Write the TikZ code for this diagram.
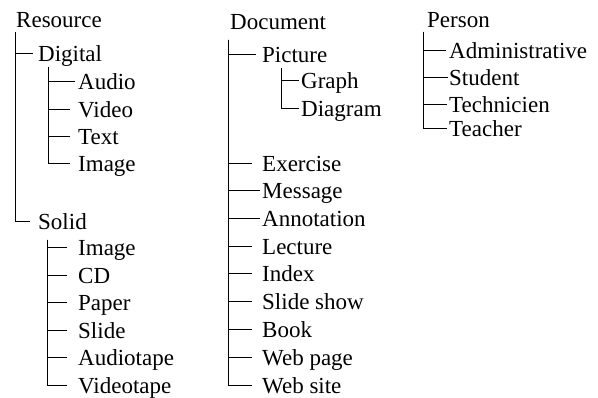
\documentclass[tikz,border=0pt]{standalone}
\usepackage{fontspec}
\setmainfont{Liberation Serif}

\tikzset{
    term/.style={anchor=west,inner sep=0pt,text height=15.2pt,text depth=0pt,
        font=\fontsize{23}{27}\selectfont},
    branch/.style={line width=1pt,shorten >=#1},
    branch/.default=0pt
}

\begin{document}
\begin{tikzpicture}[x=1pt,y=-1pt]
            \useasboundingbox (0,0) rectangle (598,398);
            % Resource
            \node[term] (res) at (16,20) {Resource};
            \coordinate (res-t) at (15,32);
            \node[term] (dig) at (38,53.5) {Digital};
            \node[term] (sol) at (38,222) {Solid};
            \draw[branch=5pt] (res-t) |- (dig.west);
            \draw[branch=8pt] (res-t) |- (sol.west);
            \coordinate (dig-t) at (48,67);
            \foreach \name/\y/\g [count=\i] in
                {Audio/82/3,Video/109.5/8,Text/137/8,Image/164/8}
            {
                \node[term] (dig\i) at (78,\y) {\name};
                \draw[branch=\g pt] (dig-t) |- (dig\i.west);
            }
            \coordinate (sol-t) at (47,240);
            \foreach \name/\y [count=\i] in
                {Image/248,CD/275.5,Paper/303,Slide/330.5,Audiotape/358,Videotape/385.5}
            {
                \node[term] (sol\i) at (78,\y) {\name};
                \draw[branch=11pt] (sol-t) |- (sol\i.west);
            }
            % Document
            \node[term] (doc) at (230,22) {Document};
            \coordinate (doc-t) at (228,40);
            \node[term] (pic) at (262,55) {Picture};
            \draw[branch=6pt] (doc-t) |- (pic.west);
            \coordinate (pic-t) at (281,68);
            \node[term] (graph) at (301,81) {Graph};
            \node[term] (diag) at (301,109) {Diagram};
            \draw[branch=2pt] (pic-t) |- (graph.west);
            \draw[branch=2pt] (pic-t) |- (diag.west);
            \foreach \name/\y/\g [count=\i] in
                {Exercise/163.5/10,Message/191/2,Annotation/218.5/2,Lecture/246.5/10,
                 Index/274/10,Slide show/302/10,Book/330/10,Web page/358/10,Web site/386/10}
            {
                \node[term] (doc\i) at (262,\y) {\name};
                \draw[branch=\g pt] (doc-t) |- (doc\i.west);
            }
            % Person
            \node[term] (per) at (427,20) {Person};
            \coordinate (per-t) at (423,32);
            \foreach \name/\y/\g [count=\i] in
                {Administrative/50.5/3,Student/78/1,Technicien/104.5/2,Teacher/129/2}
            {
                \node[term] (per\i) at (449,\y) {\name};
                \draw[branch=\g pt] (per-t) |- (per\i.west);
            }
        \end{tikzpicture}
\end{document}
